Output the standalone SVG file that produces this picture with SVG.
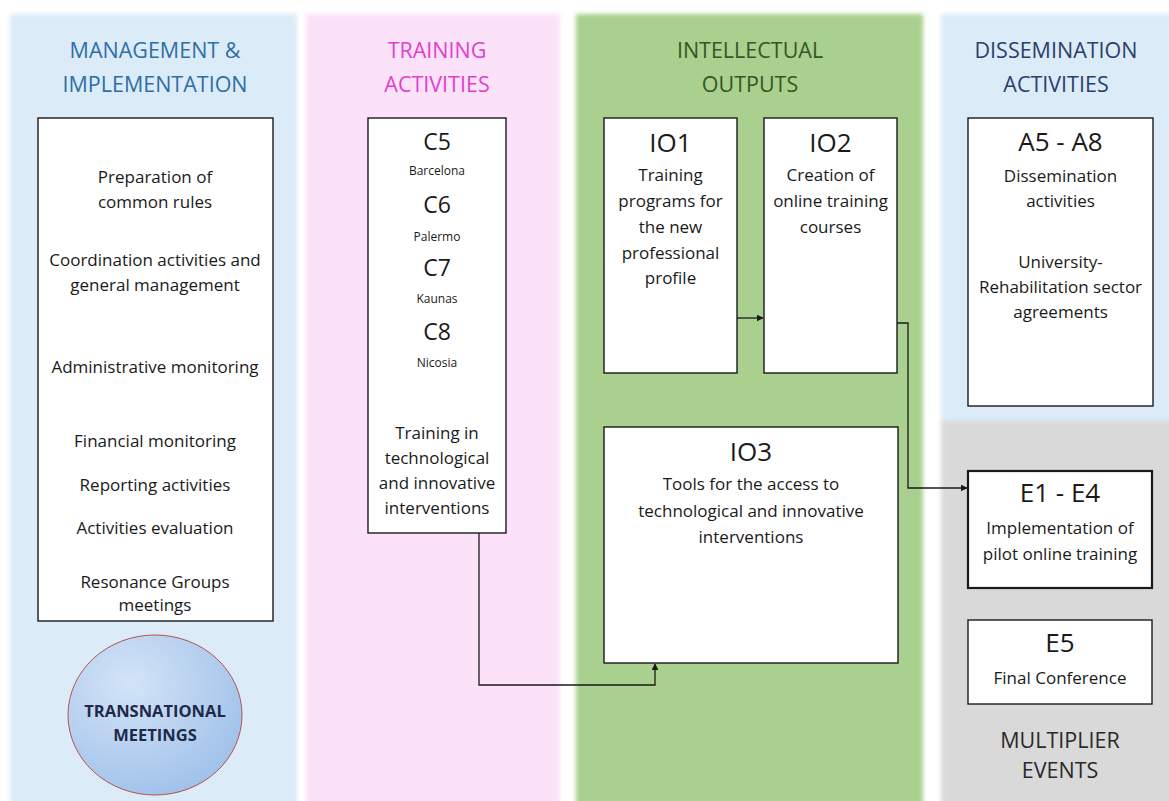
<svg xmlns="http://www.w3.org/2000/svg" width="1169" height="801" viewBox="0 0 1169 801">
<defs>
<style>
.t{font-family:"Open Sans","Liberation Sans",sans-serif;text-anchor:middle;fill:#1a1a1a}
.hd{font-size:21.5px}
.bd{font-size:17px}
.big{font-size:26px}
.mid{font-size:23px}
.sm{font-size:12px}
.box{fill:#ffffff;stroke:#1a1a1a;stroke-width:1.4}
.con{fill:none;stroke:#1a1a1a;stroke-width:1.3}
</style>
<filter id="soft" x="-5%" y="-5%" width="110%" height="110%"><feGaussianBlur stdDeviation="2"/></filter>
<radialGradient id="cg" cx="0.35" cy="0.3" r="0.8">
<stop offset="0" stop-color="#d3e4f7"/>
<stop offset="1" stop-color="#9dbfe9"/>
</radialGradient>
<marker id="ah" viewBox="0 0 10 10" refX="9" refY="5" markerWidth="7" markerHeight="7" markerUnits="userSpaceOnUse" orient="auto">
<path d="M0,0 L10,5 L0,10 z" fill="#1a1a1a"/>
</marker>
</defs>
<rect width="1169" height="801" fill="#ffffff"/>
<g id="panels" filter="url(#soft)">
<rect x="10" y="14" width="287" height="800" fill="#dcebf8"/>
<rect x="306" y="14" width="254" height="800" fill="#fbe2f9"/>
<rect x="576" y="14" width="347" height="800" fill="#a9d08e"/>
<rect x="941" y="14" width="240" height="407" fill="#dcebf8"/>
<rect x="941" y="421" width="240" height="390" fill="#d9d9d9"/>
</g>
<g id="headers">
<text class="t hd" x="155" y="58" style="fill:#2f6fa6">MANAGEMENT &amp;</text>
<text class="t hd" x="155" y="92" style="fill:#2f6fa6">IMPLEMENTATION</text>
<text class="t hd" x="437" y="58" style="fill:#e23fcf">TRAINING</text>
<text class="t hd" x="437" y="92" style="fill:#e23fcf">ACTIVITIES</text>
<text class="t hd" x="750" y="58" style="fill:#375623">INTELLECTUAL</text>
<text class="t hd" x="750" y="92" style="fill:#375623">OUTPUTS</text>
<text class="t hd" x="1056" y="58" style="fill:#2b3f6b">DISSEMINATION</text>
<text class="t hd" x="1056" y="92" style="fill:#2b3f6b">ACTIVITIES</text>
<text class="t hd" x="1060" y="748" style="fill:#2a2a2a">MULTIPLIER</text>
<text class="t hd" x="1060" y="778" style="fill:#2a2a2a">EVENTS</text>
</g>
<g id="management">
<rect class="box" x="38" y="118" width="235" height="503"/>
<text class="t bd" x="155" y="183">Preparation of</text>
<text class="t bd" x="155" y="208">common rules</text>
<text class="t bd" x="155" y="266">Coordination activities and</text>
<text class="t bd" x="155" y="291">general management</text>
<text class="t bd" x="155" y="373">Administrative monitoring</text>
<text class="t bd" x="155" y="447">Financial monitoring</text>
<text class="t bd" x="155" y="491">Reporting activities</text>
<text class="t bd" x="155" y="534">Activities evaluation</text>
<text class="t bd" x="155" y="588">Resonance Groups</text>
<text class="t bd" x="155" y="611">meetings</text>
</g>
<g id="transnational">
<ellipse cx="155" cy="715" rx="87" ry="80" fill="url(#cg)" stroke="#b5524f" stroke-width="1"/>
<text class="t" x="155" y="717" style="font-size:16.5px;font-weight:bold;fill:#1f2a4a">TRANSNATIONAL</text>
<text class="t" x="155" y="741" style="font-size:16.5px;font-weight:bold;fill:#1f2a4a">MEETINGS</text>
</g>
<g id="training">
<rect class="box" x="368" y="118" width="138" height="415"/>
<text class="t mid" x="437" y="150">C5</text>
<text class="t sm" x="437" y="175">Barcelona</text>
<text class="t mid" x="437" y="213">C6</text>
<text class="t sm" x="437" y="241">Palermo</text>
<text class="t mid" x="437" y="276">C7</text>
<text class="t sm" x="437" y="303">Kaunas</text>
<text class="t mid" x="437" y="340">C8</text>
<text class="t sm" x="437" y="367">Nicosia</text>
<text class="t bd" x="437" y="439">Training in</text>
<text class="t bd" x="437" y="464">technological</text>
<text class="t bd" x="437" y="489">and innovative</text>
<text class="t bd" x="437" y="514">interventions</text>
</g>
<g id="io1">
<rect class="box" x="604" y="118" width="133" height="255"/>
<text class="t big" x="670.5" y="152">IO1</text>
<text class="t bd" x="670.5" y="181">Training</text>
<text class="t bd" x="670.5" y="207">programs for</text>
<text class="t bd" x="670.5" y="233">the new</text>
<text class="t bd" x="670.5" y="259">professional</text>
<text class="t bd" x="670.5" y="284">profile</text>
</g>
<g id="io2">
<rect class="box" x="764" y="118" width="133" height="255"/>
<text class="t big" x="830.5" y="152">IO2</text>
<text class="t bd" x="830.5" y="181">Creation of</text>
<text class="t bd" x="830.5" y="207">online training</text>
<text class="t bd" x="830.5" y="233">courses</text>
</g>
<g id="io3">
<rect class="box" x="604" y="427" width="294" height="236"/>
<text class="t big" x="751" y="461">IO3</text>
<text class="t bd" x="751" y="490">Tools for the access to</text>
<text class="t bd" x="751" y="517">technological and innovative</text>
<text class="t bd" x="751" y="543">interventions</text>
</g>
<g id="dissemination">
<rect class="box" x="968" y="118" width="185" height="288"/>
<text class="t big" x="1060.5" y="151">A5 - A8</text>
<text class="t bd" x="1060.5" y="182">Dissemination</text>
<text class="t bd" x="1060.5" y="207">activities</text>
<text class="t bd" x="1060.5" y="268">University-</text>
<text class="t bd" x="1060.5" y="293">Rehabilitation sector</text>
<text class="t bd" x="1060.5" y="318">agreements</text>
</g>
<g id="e1e4">
<rect class="box" x="968" y="471" width="184" height="117" style="stroke-width:2.2"/>
<text class="t big" x="1060" y="502">E1 - E4</text>
<text class="t bd" x="1060" y="534">Implementation of</text>
<text class="t bd" x="1060" y="560">pilot online training</text>
</g>
<g id="e5">
<rect class="box" x="968" y="620" width="184" height="84"/>
<text class="t big" x="1060" y="652">E5</text>
<text class="t bd" x="1060" y="684">Final Conference</text>
</g>
<g id="connectors">
<path class="con" d="M737,318 H763" marker-end="url(#ah)"/>
<path class="con" d="M897,323 H908 V488 H967" marker-end="url(#ah)"/>
<path class="con" d="M479,533 V685 H655 V664" marker-end="url(#ah)"/>
</g>
</svg>
